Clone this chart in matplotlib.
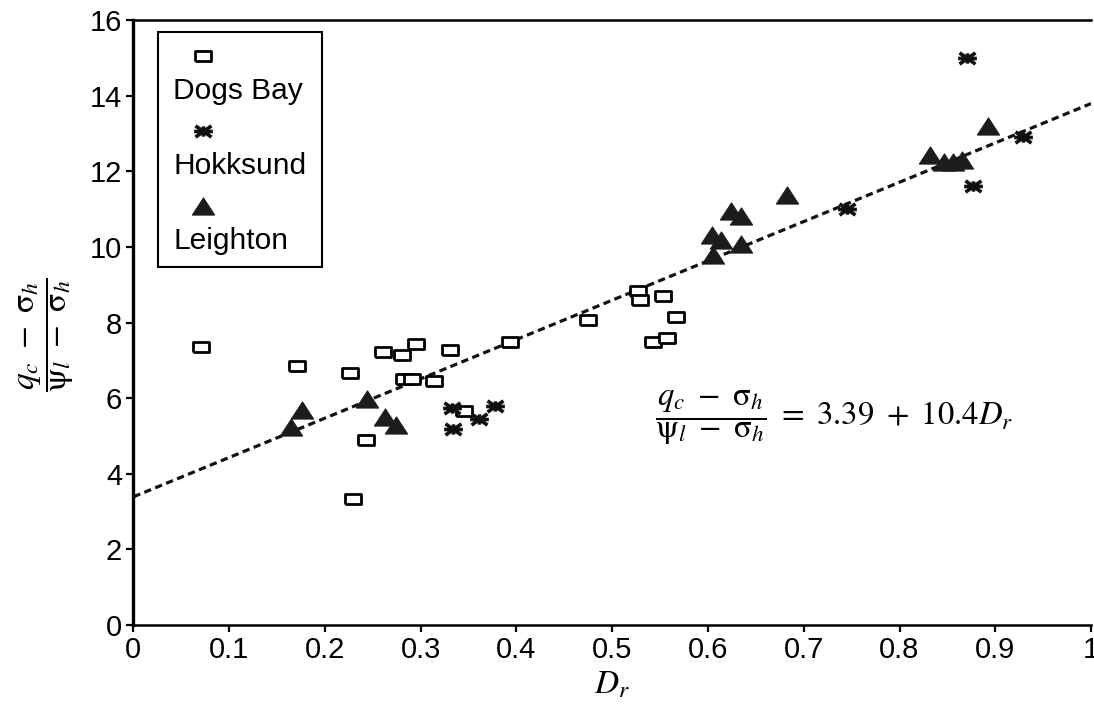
import numpy as np
import matplotlib
matplotlib.use("Agg")
import matplotlib.pyplot as plt
from matplotlib.path import Path
from matplotlib.patches import Rectangle
from matplotlib.lines import Line2D

plt.rcParams['font.family'] = ['Liberation Sans', 'DejaVu Sans']
plt.rcParams['mathtext.fontset'] = 'stix'

# relative density vs normalised cone resistance
dogs_bay_dr = [0.071, 0.171, 0.226, 0.261, 0.280, 0.295, 0.331, 0.283, 0.291,
               0.314, 0.393, 0.345, 0.243, 0.229, 0.475, 0.527, 0.529, 0.553,
               0.567, 0.543, 0.557]
dogs_bay_q = [7.34, 6.86, 6.66, 7.21, 7.14, 7.43, 7.27, 6.50, 6.50,
              6.45, 7.49, 5.67, 4.89, 3.32, 8.07, 8.82, 8.60, 8.70,
              8.14, 7.49, 7.58]

hokksund_dr = [0.333, 0.334, 0.361, 0.378, 0.745, 0.870, 0.877, 0.929]
hokksund_q = [5.73, 5.18, 5.44, 5.79, 10.99, 14.99, 11.61, 12.90]

leighton_dr = [0.165, 0.176, 0.244, 0.263, 0.274, 0.605, 0.604, 0.614, 0.635,
               0.624, 0.635, 0.683, 0.832, 0.846, 0.856, 0.865, 0.892]
leighton_q = [5.24, 5.69, 5.97, 5.51, 5.29, 9.79, 10.31, 10.18, 10.08,
              10.95, 10.82, 11.37, 12.43, 12.25, 12.25, 12.30, 13.20]

fit_a, fit_b = 3.39, 10.4

# marker shapes
rect_marker = [(-1, -0.6), (1, -0.6), (1, 0.6), (-1, 0.6), (-1, -0.6)]
tri_marker = [(-1, -0.77), (1, -0.77), (0, 0.77), (-1, -0.77)]
star_marker = Path(
    [(-1, 0), (1, 0), (-0.85, -0.6), (0.85, 0.6), (-0.85, 0.6), (0.85, -0.6),
     (0, -0.55), (0, 0.55)],
    [Path.MOVETO, Path.LINETO] * 4)

sq_kw = dict(marker=rect_marker, markersize=11, markerfacecolor='white',
             markeredgecolor='black', markeredgewidth=2.0, linestyle='none')
st_kw = dict(marker=star_marker, markersize=13.5, markerfacecolor='none',
             markeredgecolor='#111111', markeredgewidth=2.6, linestyle='none')
tr_kw = dict(marker=tri_marker, markersize=16, markerfacecolor='#1c1c1c',
             markeredgecolor='#1c1c1c', markeredgewidth=0.8, linestyle='none')

fig = plt.figure(figsize=(10.94, 7.06), dpi=100)
ax = fig.add_axes([0.1219, 0.1147, 0.8754, 0.857])

xs = np.linspace(0, 1, 50)
ax.plot(xs, fit_a + fit_b * xs, color='#111111', lw=2.3,
        linestyle=(0, (2.3, 1.4)), dash_capstyle='butt', zorder=1)

ax.plot(dogs_bay_dr, dogs_bay_q, zorder=2, **sq_kw)
ax.plot(hokksund_dr, hokksund_q, zorder=3, **st_kw)
ax.plot(leighton_dr, leighton_q, zorder=4, **tr_kw)

ax.set_xlim(0, 1)
ax.set_ylim(0, 16)
ax.set_xticks(np.arange(0, 1.01, 0.1))
ax.set_xticklabels(['0', '0.1', '0.2', '0.3', '0.4', '0.5', '0.6', '0.7',
                    '0.8', '0.9', '1'])
ax.set_yticks(range(0, 17, 2))
ax.tick_params(direction='out', length=5, width=1.6, labelsize=21, pad=3)
ax.spines['right'].set_visible(False)
ax.spines['left'].set_linewidth(2.4)
ax.spines['bottom'].set_linewidth(1.8)
ax.spines['top'].set_linewidth(1.8)

ax.set_xlabel(r'$D_r$', fontsize=24, labelpad=4)
fig.text(47 / 1094, 1 - 335 / 706,
         r'$\dfrac{q_c\ -\ \mathrm{\sigma}_h}{\mathrm{\psi}_l\ -\ \mathrm{\sigma}_h}$',
         rotation=90, ha='center', va='center', fontsize=24)

ax.text(0.545, 0.342,
        r'$\dfrac{q_c\ -\ \mathrm{\sigma}_h}{\mathrm{\psi}_l\ -\ \mathrm{\sigma}_h}'
        r'\ =\ 3.39\ +\ 10.4D_r$',
        transform=ax.transAxes, ha='left', va='center', fontsize=23.5)

# legend box: marker above its label
ax.add_patch(Rectangle((0.0261, 0.5917), 0.171, 0.3883, transform=ax.transAxes,
                       facecolor='white', edgecolor='black', lw=1.5, zorder=5))
leg_items = [('Dogs Bay', sq_kw), ('Hokksund', st_kw), ('Leighton', tr_kw)]
for i, (name, kw) in enumerate(leg_items):
    ym = 0.940 - i * 0.1235
    ax.add_line(Line2D([0.0725], [ym], transform=ax.transAxes, zorder=6, **kw))
    ax.text(0.0415, ym - 0.058, name, transform=ax.transAxes, fontsize=21.5,
            ha='left', va='center', zorder=6)

fig.savefig('out.png', dpi=100)
